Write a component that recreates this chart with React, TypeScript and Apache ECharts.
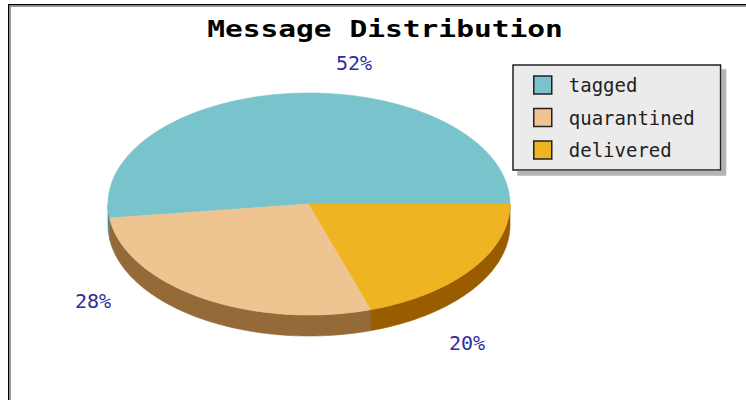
import React, { useEffect, useRef } from "react";
import * as echarts from "echarts";

const TITLE = "Message Distribution";
const CATEGORIES = ["tagged", "quarantined", "delivered"];
const VALUES = [52, 28, 20];
const COLORS = ["#79c4cc", "#eec591", "#eeb422"];
const SIDE_COLORS = ["#4f8a90", "#936a38", "#995d00"];

// layout (pixels)
const CX = 309;
const CY = 204;
const RX = 201;
const RY = 111;
const DEPTH = 21;
const LABEL_OFFSETS = [
  [45, -141],
  [-216, 97],
  [158, 139],
];

const TOTAL = VALUES.reduce((a, b) => a + b, 0);
const CUM: number[] = [0];
VALUES.forEach((v, i) => CUM.push(CUM[i] + v));

function rim(a: number, dy = 0): number[] {
  const r = (a * Math.PI) / 180;
  return [CX + RX * Math.cos(r), CY - RY * Math.sin(r) + dy];
}

function arc(from: number, to: number, dy = 0): number[][] {
  const pts: number[][] = [];
  const n = Math.max(2, Math.ceil(Math.abs(to - from)));
  for (let k = 0; k <= n; k++) pts.push(rim(from + ((to - from) * k) / n, dy));
  return pts;
}

export default function App() {
  const ref = useRef<HTMLDivElement>(null);
  useEffect(() => {
    if (!ref.current) return;
    const chart = echarts.init(ref.current, null, { renderer: "svg" });
    const series = CATEGORIES.map((name, i) => ({
      type: "custom",
      name,
      coordinateSystem: "none",
      itemStyle: { color: COLORS[i] },
      data: [[VALUES[i]]],
      renderItem: (params: any, api: any) => {
        const v = api.value(0);
        const a0 = (CUM[i] / TOTAL) * 360;
        const a1 = a0 + (v / TOTAL) * 360;
        const children: any[] = [];
        const s = Math.max(a0, 180);
        const e = Math.min(a1, 360);
        if (e > s) {
          const pts = arc(s, e).concat(arc(e, s, DEPTH));
          children.push({
            type: "polygon",
            z2: 0,
            shape: { points: pts },
            style: { fill: SIDE_COLORS[i], stroke: SIDE_COLORS[i], lineWidth: 0.6 },
          });
        }
        children.push({
          type: "polygon",
          z2: 1,
          shape: { points: [[CX, CY]].concat(arc(a0, a1)) },
          style: { fill: COLORS[i], stroke: COLORS[i], lineWidth: 0.6 },
        });
        children.push({
          type: "text",
          z2: 2,
          style: {
            text: Math.round((v / TOTAL) * 100) + "%",
            x: CX + LABEL_OFFSETS[i][0],
            y: CY + LABEL_OFFSETS[i][1],
            fill: "#2e2ea0",
            font: '20px "DejaVu Sans Mono"',
            align: "center",
            verticalAlign: "middle",
          },
        });
        return { type: "group", children };
      },
    }));
    chart.setOption({
      animation: false,
      backgroundColor: "#ffffff",
      legend: {
        data: CATEGORIES,
        orient: "vertical",
        left: 513,
        top: 65,
        padding: [10, 26, 10, 20],
        itemGap: 12.5,
        itemWidth: 18,
        itemHeight: 18,
        icon: "rect",
        selectedMode: false,
        backgroundColor: "#ebebeb",
        borderColor: "#222222",
        borderWidth: 1.5,
        shadowColor: "#b4b4b4",
        shadowBlur: 0,
        shadowOffsetX: 5,
        shadowOffsetY: 5,
        itemStyle: { borderColor: "#222222", borderWidth: 1.5 },
        textStyle: {
          fontFamily: "DejaVu Sans Mono",
          fontSize: 19,
          lineHeight: 20,
          color: "#222222",
          padding: [0, 0, 0, 12],
        },
      },
      graphic: [
        { type: "rect", shape: { x: 8, y: 4, width: 740, height: 1.5 }, style: { fill: "#000" } },
        { type: "rect", shape: { x: 8, y: 4, width: 1.5, height: 400 }, style: { fill: "#000" } },
        { type: "rect", shape: { x: 9.5, y: 5.5, width: 740, height: 1.5 }, style: { fill: "#9a9a9a" } },
        { type: "rect", shape: { x: 9.5, y: 5.5, width: 1.5, height: 400 }, style: { fill: "#9a9a9a" } },
        {
          type: "text",
          x: 385,
          y: 29,
          scaleX: 1.285,
          style: {
            text: TITLE,
            font: 'bold 23px "DejaVu Sans Mono"',
            fill: "#000",
            align: "center",
            verticalAlign: "middle",
          },
        },
      ],
      series,
    });
    return () => chart.dispose();
  }, []);
  return (
    <div
      ref={ref}
      style={{ position: "fixed", left: 0, top: 0, width: 746, height: 400 }}
    />
  );
}
